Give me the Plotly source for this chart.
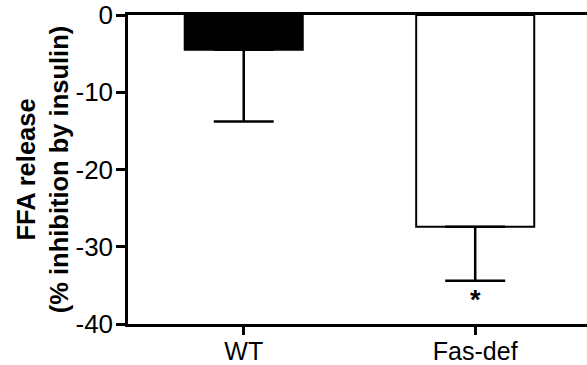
import plotly.graph_objects as go

categories = ["WT", "Fas-def"]
values = [-4.5, -27.4]
err_minus = [9.3, 7.0]
fills = ["black", "white"]
y_ticks = [0, -10, -20, -30, -40]
y_tick_labels = ["0", "-10", "-20", "-30", "-40"]

fig = go.Figure()
fig.add_trace(go.Bar(
    x=categories, y=values, width=0.51,
    marker=dict(color=fills, line=dict(color="black", width=2)),
    error_y=dict(type="data", symmetric=False, array=[0, 0], arrayminus=err_minus,
                 color="black", thickness=2.5, width=30),
))
fig.add_annotation(x="Fas-def", y=values[1] - err_minus[1], text="<b>*</b>", showarrow=False,
                   yanchor="top", yshift=-2, font=dict(size=27, color="black", family="Liberation Sans"))

fig.update_layout(
    width=587, height=365, margin=dict(l=128, r=0, t=15, b=41),
    plot_bgcolor="white", paper_bgcolor="white", showlegend=False,
    font=dict(family="Liberation Sans, Arial, sans-serif", color="black"),
    bargap=0.49,
)
fig.update_xaxes(range=[-0.5, 1.483], showline=True, linecolor="black", linewidth=2.5,
                 mirror=True, ticks="outside", ticklen=8, tickwidth=2.5, tickcolor="black",
                 tickfont=dict(size=25), ticklabelstandoff=-5,
                 showgrid=False, zeroline=False, automargin=False)
fig.update_yaxes(range=[-40, 0], tickvals=y_ticks, ticktext=y_tick_labels,
                 showline=True, linecolor="black", linewidth=2.5, ticks="outside",
                 ticklen=9, tickwidth=2.5, tickcolor="black", tickfont=dict(size=26),
                 ticklabelstandoff=-2, automargin=False,
                 showgrid=False, zeroline=False,
                 title=dict(text="<b>FFA release<br>(% inhibition by insulin)</b>",
                            font=dict(size=25.5), standoff=0))

fig.write_html("out.html")
